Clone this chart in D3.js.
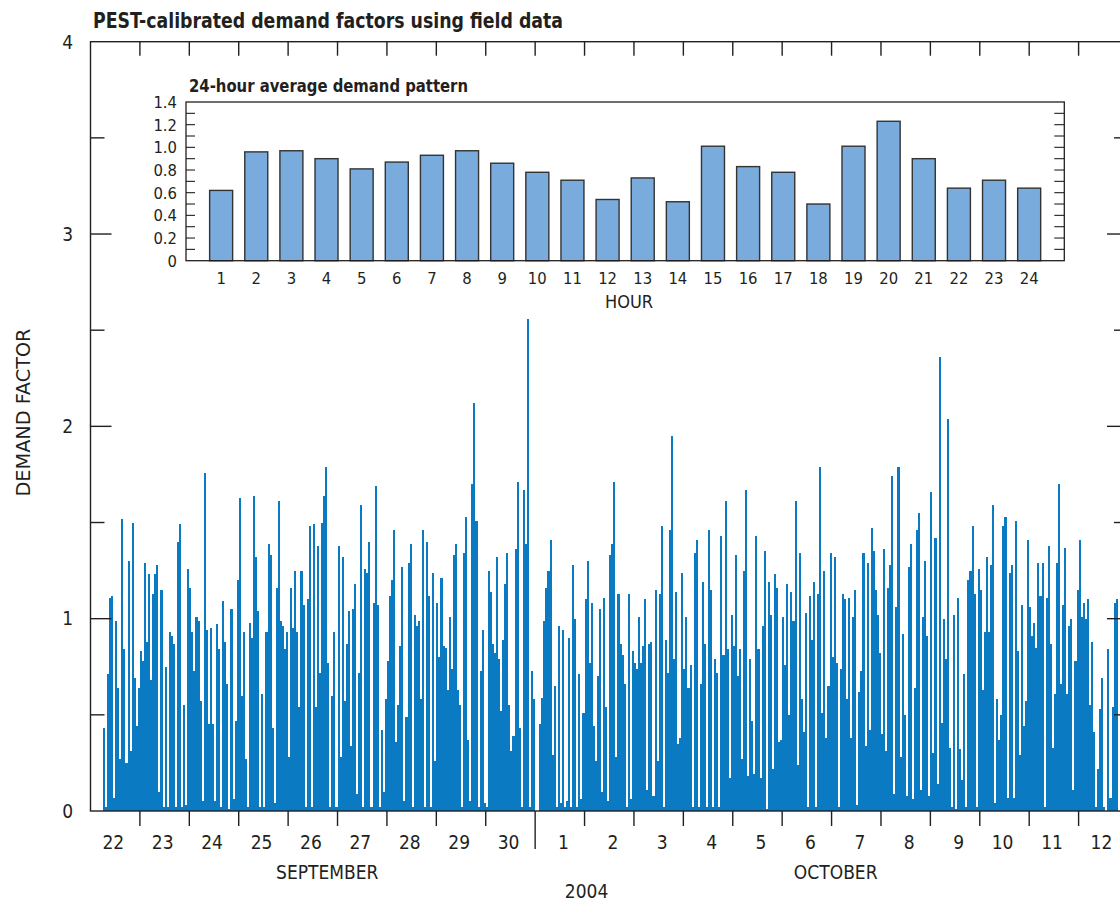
<!DOCTYPE html>
<html>
<head>
<meta charset="utf-8">
<script src="https://cdn.jsdelivr.net/npm/d3@7"></script>
<style>
  html, body { margin: 0; padding: 0; background: #fff; }
  svg { display: block; }
  text { font-family: "Liberation Sans Narrow", "Arial Narrow", "DejaVu Sans Condensed", sans-serif; fill: #231f20; }
</style>
</head>
<body>
<svg id="chart" width="1120" height="904"></svg>
<script>
// Hourly demand factors, first value at 06:00 on 22 September 2004
const seriesStart = Date.UTC(2004, 8, 22, 6);
const demandFactor = [
  0.43,0.02,0.71,1.11,1.12,0.07,0.99,0.64,0.27,1.52,0.84,0.25,1.30,0.31,1.50,0.69,0.44,0.64,0.83,0.78,1.29,0.88,1.23,0.68,1.13,1.23,1.28,0.10,1.15,0.02,0.75,0.02,0.93,0.91,0.87,0.02,1.40,1.49,0.02,0.55,0.03,1.26,1.16,0.93,0.73,1.01,0.99,0.57,0.05,1.76,0.94,0.45,0.95,0.45,0.05,0.97,0.84,0.02,1.09,
  0.88,0.66,0.01,1.05,0.06,0.47,1.20,1.63,0.60,0.93,0.27,0.02,0.98,0.90,1.64,1.32,1.04,0.02,0.61,0.02,0.93,1.39,1.33,0.43,0.04,1.16,1.61,0.99,0.96,0.84,0.93,0.28,1.16,0.95,1.25,0.93,0.54,1.25,1.07,0.02,1.10,1.48,0.02,1.49,0.54,1.38,0.72,1.50,1.64,1.79,0.77,0.02,0.60,0.93,0.02,1.38,0.28,1.32,0.57,0.87,1.04,
  0.34,1.05,1.18,0.09,0.72,1.59,0.02,1.26,1.24,1.40,0.02,1.08,1.69,1.07,0.02,0.42,0.10,0.58,0.78,1.12,1.20,1.46,0.36,0.55,0.86,1.27,0.05,0.49,1.29,1.39,0.02,1.02,0.96,0.99,0.58,1.46,0.02,1.40,1.12,0.02,1.24,0.26,1.08,0.80,1.21,0.86,0.85,0.63,1.01,0.74,1.33,1.39,0.63,0.55,0.02,1.34,1.53,0.37,0.05,1.70,2.12,1.51,
  0.02,0.73,0.94,0.04,0.02,1.25,1.14,0.87,0.82,1.32,0.79,0.52,0.89,1.18,1.34,0.55,0.31,0.39,1.36,1.71,0.43,0.02,1.67,1.39,2.56,0.02,0.73,0.58,0,0,0.45,0.59,0.99,1.16,1.25,1.41,0.29,0.65,0.02,0.96,0.04,0.94,0.02,0.05,0.90,0.02,1.28,1.00,0.02,0.71,0.06,0.51,1.10,1.30,0.77,1.08,0.44,0.26,0.70,1.05,0.10,1.11,
  0.54,0.05,1.33,1.39,1.71,0.28,1.13,0.87,0.81,0.66,0.02,1.13,0.06,0.83,0.77,0.74,1.01,0.77,0.86,1.10,0.11,0.87,0.88,0.08,1.15,0.26,1.13,1.48,0.02,0.89,0.72,1.46,1.95,0.79,1.14,0.35,0.38,1.24,0.74,1.01,0.64,0.76,0.02,1.34,1.41,0.02,0.66,1.19,0.87,0.02,1.46,1.15,0.02,0.79,0.72,0.02,1.43,0.81,1.61,0.84,0.17,1.02,
  0.86,1.33,0.70,0.84,0.27,1.25,1.67,0.18,0.79,0.47,0.19,1.43,0.84,0.17,0.96,1.35,0.01,1.19,1.02,0.22,1.23,1.16,0.36,0.37,1.01,0.76,1.18,0.50,1.14,0.99,1.61,0.24,1.34,0.58,0.41,1.03,0.02,1.12,0.89,1.19,0.02,1.13,1.79,0.51,1.25,0.38,0.65,1.34,0.80,1.32,0.77,0.02,0.74,1.13,1.10,0.58,1.11,0.38,1.01,1.15,0.03,0.62,0.73,
  1.34,0.34,1.29,0.42,1.47,1.35,1.15,1.02,0.82,0.40,1.36,0.31,1.16,1.28,1.74,0.09,1.06,1.79,0.28,0.92,0.50,0.08,1.27,1.39,0.06,0.64,1.46,1.55,0.11,1.01,1.30,0.91,0.08,1.66,0.30,1.42,0.14,2.36,0.46,1.00,0.79,2.04,0.33,0.02,1.02,0.01,1.11,0.32,0.16,0.71,0.02,1.20,1.25,1.48,1.13,0.02,1.26,1.15,0.63,0.93,1.32,
  0.93,1.28,1.59,0.04,0.58,0.37,0.50,1.48,1.53,0.07,1.24,1.28,0.07,1.51,0.83,0.29,1.07,0.44,0.57,1.41,1.06,0.91,0.98,0.85,1.29,1.12,1.29,0.02,1.11,1.38,0.87,0.33,0.61,1.29,1.70,0.66,1.07,1.37,0.61,0.96,1.00,0.11,0.78,1.15,1.41,1.01,1.08,1.00,1.10,0.55,0.88,0.41,0.02,0.22,0.53,0.69,0.02,0.0,0.84,0.07,0.54,1.08,1.10
];

// 24-hour average pattern
const hourOfDay = [1,2,3,4,5,6,7,8,9,10,11,12,13,14,15,16,17,18,19,20,21,22,23,24];
const hourlyAverage = [0.62,0.96,0.97,0.90,0.81,0.87,0.93,0.97,0.86,0.78,0.71,0.54,
                       0.73,0.52,1.01,0.83,0.78,0.50,1.01,1.23,0.90,0.64,0.71,0.64];

// Axis labels
const dayLabels = ["22","23","24","25","26","27","28","29","30","1","2","3","4","5","6","7","8","9","10","11","12"];
const mainYTicks = [0, 1, 2, 3, 4];
const insetYTicks = ["0","0.2","0.4","0.6","0.8","1.0","1.2","1.4"];
const monthLabels = [
  { text: "SEPTEMBER", at: Date.UTC(2004, 8, 26, 19) },
  { text: "OCTOBER",   at: Date.UTC(2004, 9, 7, 2) }
];
const yearLabel = { text: "2004", at: Date.UTC(2004, 9, 2, 1) };

const ink = "#231f20";
const svg = d3.select("#chart");

// ---------- main panel ----------
const axisStart = new Date(Date.UTC(2004, 8, 22));
const axisEnd = new Date(Date.UTC(2004, 9, 13));
const x = d3.scaleUtc().domain([axisStart, axisEnd]).range([90.5, 1128]);
const y = d3.scaleLinear().domain([0, 4]).range([811, 41.7]);

const hourly = demandFactor.map((v, i) => ({ t: d3.utcHour.offset(new Date(seriesStart), i), v }));

svg.append("g")
  .attr("shape-rendering", "crispEdges")
  .selectAll("rect")
  .data(hourly)
  .join("rect")
  .attr("x", d => x(d.t))
  .attr("width", d => x(d3.utcHour.offset(d.t, 1)) - x(d.t))
  .attr("y", d => y(d.v))
  .attr("height", d => y(0) - y(d.v))
  .attr("fill", "#0a7bc2");

// frame
svg.append("rect")
  .attr("x", x(axisStart)).attr("y", y(4))
  .attr("width", x(axisEnd) - x(axisStart)).attr("height", y(0) - y(4))
  .attr("fill", "none").attr("stroke", ink).attr("stroke-width", 1.4);

// y ticks: inward, every 0.5, on both sides
const yTickVals = d3.range(0.5, 4, 0.5);
const yTicks = svg.append("g").attr("stroke", ink).attr("stroke-width", 1.4);
yTickVals.forEach(v => {
  const len = Number.isInteger(v) ? 21 : 14;
  yTicks.append("line").attr("x1", x(axisStart)).attr("x2", x(axisStart) + len).attr("y1", y(v)).attr("y2", y(v));
  yTicks.append("line").attr("x1", x(axisEnd)).attr("x2", x(axisEnd) - len).attr("y1", y(v)).attr("y2", y(v));
});

svg.append("g").selectAll("text")
  .data(mainYTicks).join("text")
  .attr("x", 73).attr("y", d => y(d) + 6.8)
  .attr("text-anchor", "end").attr("font-size", 19)
  .text(d => d);

svg.append("text")
  .attr("transform", "translate(30,412.5) rotate(-90)")
  .attr("text-anchor", "middle").attr("font-size", 19.5)
  .attr("textLength", 168).attr("lengthAdjust", "spacingAndGlyphs")
  .text("DEMAND FACTOR");

// day boundaries
const dayBounds = d3.utcDay.range(d3.utcDay.offset(axisStart, 1), axisEnd);
const monthStart = Date.UTC(2004, 9, 1);
const dayTicks = svg.append("g").attr("stroke", ink).attr("stroke-width", 1.4);
dayBounds.forEach(d => {
  const px = x(d);
  dayTicks.append("line").attr("x1", px).attr("x2", px).attr("y1", y(4)).attr("y2", y(4) + 14);
  dayTicks.append("line").attr("x1", px).attr("x2", px).attr("y1", y(0))
    .attr("y2", +d === monthStart ? y(0) + 38 : y(0) + 15);
});

const dayStarts = d3.utcDay.range(axisStart, axisEnd);
svg.append("g").selectAll("text")
  .data(dayStarts).join("text")
  .attr("x", d => x(d3.utcHour.offset(d, 12)) + 9)
  .attr("y", 848.5)
  .attr("text-anchor", "end").attr("font-size", 19)
  .text((d, i) => dayLabels[i]);

svg.append("g").selectAll("text")
  .data(monthLabels).join("text")
  .attr("x", d => x(new Date(d.at))).attr("y", 878.5)
  .attr("text-anchor", "middle").attr("font-size", 19)
  .text(d => d.text);

svg.append("text")
  .attr("x", x(new Date(yearLabel.at))).attr("y", 898)
  .attr("text-anchor", "middle").attr("font-size", 19)
  .text(yearLabel.text);

svg.append("text")
  .attr("x", 93).attr("y", 27.5)
  .attr("font-size", 21).attr("font-weight", "bold")
  .attr("textLength", 470).attr("lengthAdjust", "spacingAndGlyphs")
  .text("PEST-calibrated demand factors using field data");

// ---------- inset: 24-hour average ----------
const ix = d3.scaleLinear().domain([0, 25]).range([186, 1064.3]);
const iy = d3.scaleLinear().domain([0, 1.4]).range([260.7, 102]);

svg.append("rect")
  .attr("x", ix(0)).attr("y", iy(1.4))
  .attr("width", ix(25) - ix(0)).attr("height", iy(0) - iy(1.4))
  .attr("fill", "#fff");

svg.append("g").selectAll("rect")
  .data(hourlyAverage).join("rect")
  .attr("x", (d, i) => ix(hourOfDay[i]) - 11.5)
  .attr("width", 23)
  .attr("y", d => iy(d))
  .attr("height", d => iy(0) - iy(d))
  .attr("fill", "#79acdd")
  .attr("stroke", "#333").attr("stroke-width", 1.4);

svg.append("rect")
  .attr("x", ix(0)).attr("y", iy(1.4))
  .attr("width", ix(25) - ix(0)).attr("height", iy(0) - iy(1.4))
  .attr("fill", "none").attr("stroke", ink).attr("stroke-width", 1.3);

const iTicks = svg.append("g").attr("stroke", ink).attr("stroke-width", 1.1);
d3.range(1, 14).map(k => k / 10).forEach(v => {
  iTicks.append("line").attr("x1", ix(0)).attr("x2", ix(0) + 9).attr("y1", iy(v)).attr("y2", iy(v));
  iTicks.append("line").attr("x1", ix(25)).attr("x2", ix(25) - 10).attr("y1", iy(v)).attr("y2", iy(v));
});

svg.append("g").selectAll("text")
  .data(insetYTicks).join("text")
  .attr("x", 177).attr("y", d => iy(+d) + 6)
  .attr("text-anchor", "end").attr("font-size", 16.5)
  .text(d => d);

svg.append("g").selectAll("text")
  .data(hourOfDay).join("text")
  .attr("x", d => ix(d)).attr("y", 283.5)
  .attr("text-anchor", "middle").attr("font-size", 16.5)
  .text(d => d);

svg.append("text")
  .attr("x", 629).attr("y", 307.5)
  .attr("text-anchor", "middle").attr("font-size", 18)
  .text("HOUR");

svg.append("text")
  .attr("x", 189).attr("y", 91.5)
  .attr("font-size", 17.5).attr("font-weight", "bold")
  .attr("textLength", 279).attr("lengthAdjust", "spacingAndGlyphs")
  .text("24-hour average demand pattern");
</script>
</body>
</html>
